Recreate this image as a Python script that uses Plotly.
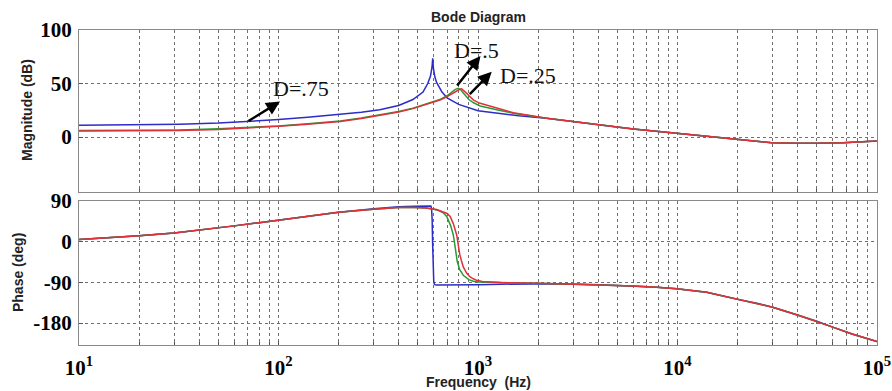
import plotly.graph_objects as go

# ---------------- data ----------------
# Magnitude (dB)
f_mag_075 = [10, 20, 32, 50, 69, 100, 140, 204, 260, 322, 400, 472, 530, 560, 578, 588, 593,
             598, 608, 620, 660, 700, 800, 1000, 1300, 1600, 2200, 3000, 4100, 6000, 9900,
             14000, 19800, 29600, 40000, 49700, 67600, 100000]
mag_075 = [11.0, 11.5, 12.0, 13.0, 14.3, 16.3, 18.5, 21.2, 23.2, 25.4, 29.5, 35.0, 42.0, 50.0,
           57.0, 65.0, 73.5, 64.0, 56.0, 51.0, 42.0, 36.5, 30.5, 24.5, 21.5, 19.8, 17.5, 14.5,
           11.2, 7.5, 3.4, 0.5, -2.2, -5.3, -5.8, -5.9, -5.3, -3.7]

f_mag_05 = [10, 20, 32, 50, 69, 100, 140, 204, 260, 322, 400, 472, 574, 650, 697, 740, 770,
            796, 815, 840, 870, 900, 950, 1025, 1241, 1503, 2208, 3004, 4100, 6000, 9900,
            14000, 19800, 29600, 40000, 49700, 67600, 100000]
mag_05 = [6.0, 6.3, 6.6, 7.6, 8.6, 10.4, 12.4, 15.0, 17.8, 20.8, 23.8, 27.0, 31.8, 35.3, 38.3,
          42.0, 44.5, 45.5, 44.5, 41.5, 38.0, 35.0, 32.0, 29.0, 25.5, 22.3, 17.5, 14.3, 11.2,
          7.5, 3.4, 0.5, -2.2, -5.3, -5.8, -5.9, -5.3, -3.7]

f_mag_025 = [10, 20, 32, 50, 69, 100, 140, 204, 260, 322, 400, 472, 574, 650, 697, 740, 782,
             810, 828, 850, 878, 912, 950, 1025, 1241, 1503, 2208, 3004, 4100, 6000, 9900,
             14000, 19800, 29600, 40000, 49700, 67600, 100000]
mag_025 = [5.5, 5.8, 6.0, 7.0, 8.1, 10.0, 12.0, 14.5, 17.2, 20.3, 23.3, 26.5, 31.3, 34.8, 37.5,
           40.5, 43.3, 44.6, 45.0, 43.5, 40.8, 37.7, 34.5, 31.5, 26.8, 22.7, 17.5, 14.3, 11.2,
           7.5, 3.4, 0.5, -2.2, -5.3, -5.8, -5.9, -5.3, -3.7]

# Phase (deg)
f_ph_075 = [10, 15, 20, 30, 40, 60, 80, 100, 150, 200, 300, 400, 480, 560, 580, 585, 589, 592,
            596, 600, 604, 610, 620, 800, 1000, 1300, 2000, 2570, 4100, 6000, 7870, 9900,
            14000, 19800, 25000, 30000, 40000, 50000, 60000, 75000, 100000]
ph_075 = [5.0, 9.0, 13.0, 19.0, 25.0, 35.0, 42.0, 48.0, 58.0, 65.0, 73.0, 77.5, 78.5, 79.5,
          79.0, 74.0, 50.0, 0.0, -60.0, -88.0, -94.0, -95.5, -95.8, -95.8, -95.3, -94.0, -92.5,
          -93.0, -95.0, -98.0, -101.0, -104.0, -112.0, -127.0, -136.0, -145.0, -162.0, -176.0,
          -189.0, -204.0, -221.0]

f_ph_05 = [10, 15, 20, 30, 40, 60, 80, 100, 150, 200, 300, 400, 480, 550, 600, 640, 670, 697,
           730, 752, 770, 787, 810, 846, 900, 947, 1000, 1100, 1300, 2000, 2570, 4100, 6000,
           7870, 9900, 14000, 19800, 25000, 30000, 40000, 50000, 60000, 75000, 100000]
ph_05 = [5.0, 9.0, 13.0, 19.0, 25.0, 35.0, 42.0, 48.0, 58.0, 65.0, 72.0, 75.5, 75.5, 74.5,
         72.0, 68.5, 64.0, 56.0, 35.0, 15.0, -15.0, -44.0, -62.0, -75.0, -84.0, -87.5, -89.0,
         -90.0, -90.5, -92.0, -93.0, -95.0, -98.0, -101.0, -104.0, -112.0, -127.0, -136.0,
         -145.0, -162.0, -176.0, -189.0, -204.0, -221.0]

f_ph_025 = [10, 15, 20, 30, 40, 60, 80, 100, 150, 200, 300, 400, 480, 550, 620, 670, 700, 725,
            752, 782, 797, 810, 828, 846, 878, 910, 947, 985, 1050, 1150, 1300, 2000, 2570,
            4100, 6000, 7870, 9900, 14000, 19800, 25000, 30000, 40000, 50000, 60000, 75000,
            100000]
ph_025 = [5.0, 9.0, 13.0, 19.0, 25.0, 35.0, 42.0, 48.0, 58.0, 65.0, 72.0, 75.5, 75.5, 74.5,
          71.0, 66.5, 62.5, 56.0, 40.0, 15.0, -11.0, -28.0, -44.0, -57.0, -70.0, -77.5, -82.0,
          -85.5, -88.0, -89.5, -90.3, -92.0, -93.0, -95.0, -98.0, -101.0, -104.0, -112.0,
          -127.0, -136.0, -145.0, -162.0, -176.0, -189.0, -204.0, -221.0]

x_tick_vals = [10, 100, 1000, 10000, 100000]
x_tick_text = ["10<sup>1</sup>", "10<sup>2</sup>", "10<sup>3</sup>", "10<sup>4</sup>", "10<sup>5</sup>"]
mag_tick_vals = [0, 50, 100]
mag_tick_text = ["0", "50", "100"]
ph_tick_vals = [-180, -90, 0, 90]
ph_tick_text = ["-180", "-90", "0", "90"]

series_labels = ["D=.75", "D=.5", "D=.25"]
colors = ["#2c2cc8", "#2a9a35", "#e0303a"]

# ---------------- figure ----------------
fig = go.Figure()
mag_sets = [(f_mag_075, mag_075), (f_mag_05, mag_05), (f_mag_025, mag_025)]
ph_sets = [(f_ph_075, ph_075), (f_ph_05, ph_05), (f_ph_025, ph_025)]
for (fx, fy), lab, c in zip(mag_sets, series_labels, colors):
    fig.add_trace(go.Scatter(x=fx, y=fy, mode="lines", name=lab,
                             line=dict(color=c, width=1.5), xaxis="x", yaxis="y"))
for (fx, fy), lab, c in zip(ph_sets, series_labels, colors):
    fig.add_trace(go.Scatter(x=fx, y=fy, mode="lines", name=lab, showlegend=False,
                             line=dict(color=c, width=1.5), xaxis="x2", yaxis="y2"))

minor_vals = [d * 10 ** e for e in range(1, 5) for d in range(2, 10)]
grid_c = "#707070"
bold_serif = dict(family="Liberation Serif", size=21, color="black", weight="bold")

xcommon = dict(type="log", range=[1, 5], showline=True, linecolor="#8a8a8a", linewidth=1,
               mirror=True, showgrid=True, gridcolor=grid_c, griddash="dot", gridwidth=1,
               ticks="inside", ticklen=4, tickcolor="#555", zeroline=False, automargin=False,
               minor=dict(tickvals=minor_vals, showgrid=True, gridcolor=grid_c, griddash="dot",
                          gridwidth=1, ticks="inside", ticklen=3, tickcolor="#555"),
               tickvals=x_tick_vals, ticktext=x_tick_text, tickfont=bold_serif)
ycommon = dict(tickfont=bold_serif, showline=True, linecolor="#8a8a8a", mirror=True,
               showgrid=True, gridcolor=grid_c, griddash="dot", zeroline=False, ticks="inside",
               ticklen=4, tickcolor="#555", ticklabelstandoff=2, automargin=False)

fig.update_layout(
    width=892, height=391,
    margin=dict(l=79, r=15, t=30, b=46),
    paper_bgcolor="white", plot_bgcolor="white",
    showlegend=False,
    xaxis=dict(**xcommon, anchor="y", matches="x2", showticklabels=False),
    xaxis2=dict(**xcommon, anchor="y2", ticklabelstandoff=4),
    yaxis=dict(**ycommon, domain=[0.4857, 1.0], range=[-51.4, 100], tickvals=mag_tick_vals,
               ticktext=mag_tick_text),
    yaxis2=dict(**ycommon, domain=[0.0, 0.4571], range=[-228.5, 90], tickvals=ph_tick_vals,
                ticktext=ph_tick_text),
)

ann = []
lbl_font = dict(family="Liberation Sans", size=14, color="#222", weight="bold")
ann.append(dict(text="Bode Diagram", xref="paper", yref="paper", x=0.5, y=1.0, yshift=13,
                showarrow=False, font=lbl_font, xanchor="center", yanchor="middle"))
ann.append(dict(text="Frequency  (Hz)", xref="paper", yref="paper", x=0.5, y=-0.1165,
                showarrow=False, font=lbl_font, xanchor="center", yanchor="middle"))
ann.append(dict(text="Magnitude (dB)", xref="paper", yref="paper", x=-0.0652, y=0.746,
                textangle=-90, showarrow=False, font=lbl_font, xanchor="center", yanchor="middle"))
ann.append(dict(text="Phase (deg)", xref="paper", yref="paper", x=-0.0764, y=0.2286,
                textangle=-90, showarrow=False, font=lbl_font, xanchor="center", yanchor="middle"))

txt_font = dict(family="Liberation Serif", size=22, color="#111")
# arrows (head position in data units, tail offset in px)
arrows = [(2.0075, 33.2, -33, 20.5), (3.0125, 75.7, -24.5, 31), (3.0687, 61.0, -23.4, 23.8)]
labels_pos = [(2.113, 45.8), (2.9925, 81.3), (3.2506, 57.9)]
for (hx, hy, ax, ay), (tx, ty), lab in zip(arrows, labels_pos, series_labels):
    ann.append(dict(x=hx, y=hy, xref="x", yref="y", ax=ax, ay=ay, axref="pixel", ayref="pixel",
                    text="", showarrow=True, arrowhead=2, arrowsize=1.1, arrowwidth=2.5,
                    arrowcolor="black"))
    ann.append(dict(x=tx, y=ty, xref="x", yref="y", text=lab, showarrow=False, font=txt_font,
                    xanchor="center", yanchor="middle"))
fig.update_layout(annotations=ann)

fig.write_html("out.html")
